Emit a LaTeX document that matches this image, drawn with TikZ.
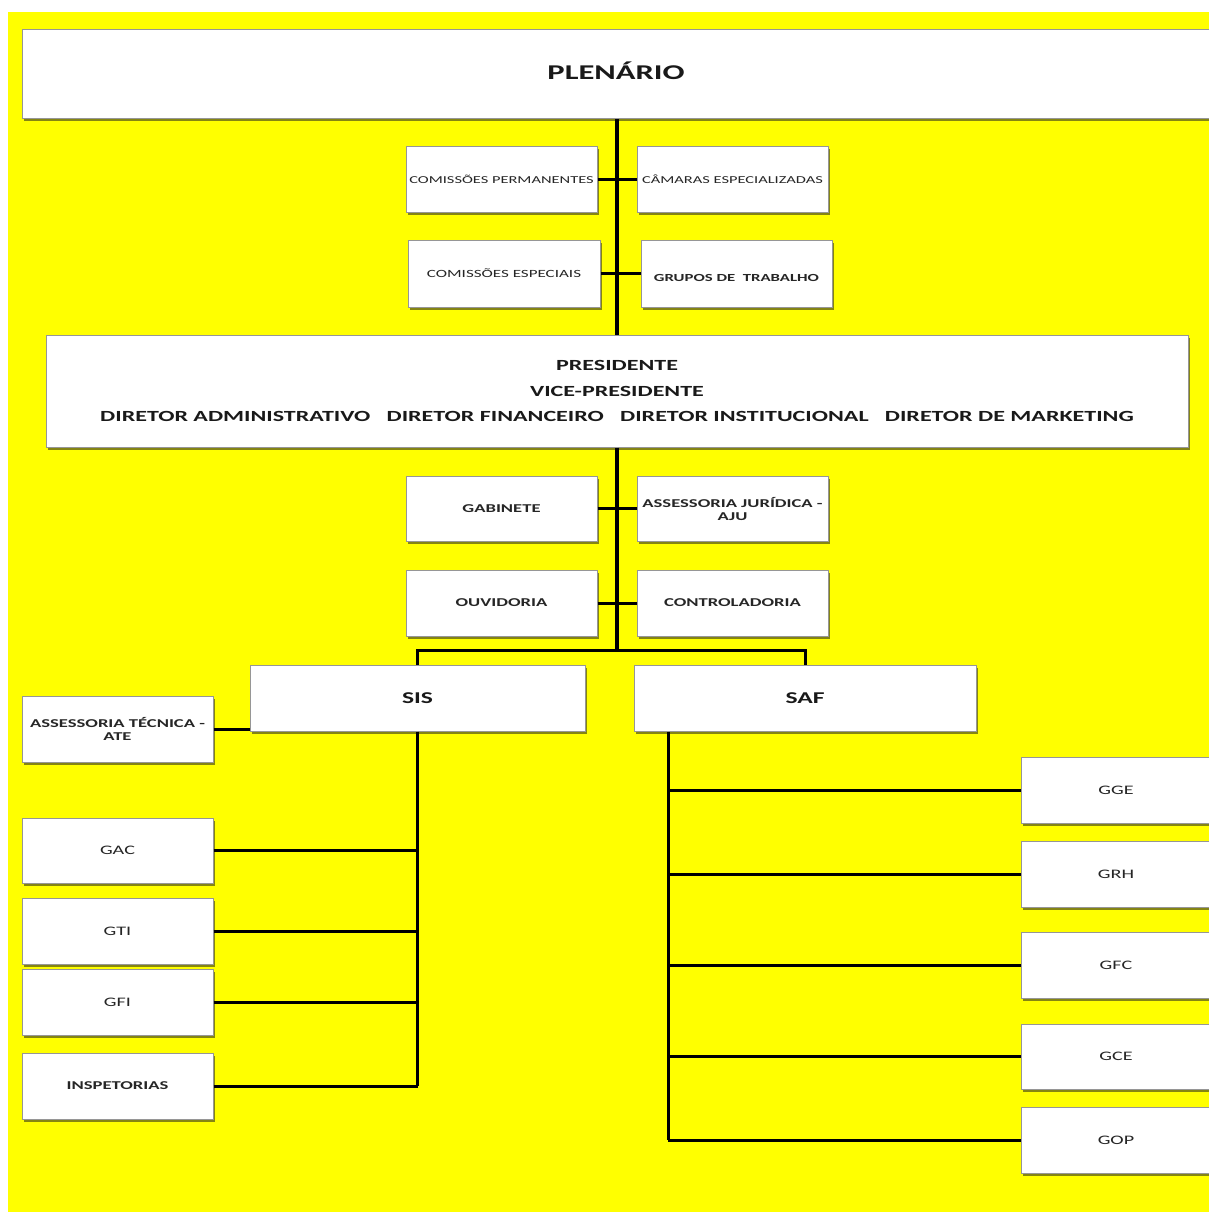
\documentclass[tikz,border=0pt]{standalone}
\usepackage{fontspec}
\setmainfont{Carlito}
\newfontfamily\wide[FakeStretch=1.55]{Carlito}
\usetikzlibrary{shadows}
\definecolor{bgyel}{RGB}{255,255,0}
\definecolor{shad}{RGB}{120,120,20}
\definecolor{txt}{RGB}{38,38,38}
\tikzset{
  box/.style={draw={rgb,255:red,150;green,150;blue,150}, line width=1pt, fill=white,
    drop shadow={shadow xshift=1.5pt, shadow yshift=-2.5pt, fill=shad, opacity=0.9},
    inner sep=1pt, align=center, text=txt, font=\wide\bfseries\fontsize{12}{13}\selectfont},
  reg/.style={font=\wide\fontsize{13}{14}\selectfont},
  tiny/.style={font=\wide\fontsize{10.6}{12}\selectfont},
  big/.style={font=\wide\bfseries\fontsize{15.5}{25.5}\selectfont, text=black!90},
  conn/.style={line width=3pt, black},
  trunk/.style={line width=4pt, black},
}
\begin{document}
\begin{tikzpicture}[x=1pt,y=-1pt]
\useasboundingbox (0,0) rectangle (1209,1212);
\clip (0,0) rectangle (1209,1212);
\fill[bgyel] (8,12) rectangle (1215,1220);
% coordinates for trunk lines
\coordinate (tx) at (617,0);
\coordinate (j) at (617,650);
\coordinate (sv) at (668,0);
% top
\node[box, font=\wide\bfseries\fontsize{21}{24}\selectfont, text=black!90, text depth=8pt, minimum width=1188, minimum height=89] (plen) at (616,74.5) {PLENÁRIO};
\node[box, tiny, minimum width=191, minimum height=66] (cp) at (501.5,179) {COMISSÕES PERMANENTES};
\node[box, tiny, minimum width=191, minimum height=66] (ca) at (732.5,179) {CÂMARAS ESPECIALIZADAS};
\node[box, font=\wide\fontsize{11}{12}\selectfont, minimum width=192, minimum height=67] (ces) at (504,273.5) {COMISSÕES ESPECIAIS};
\node[box, font=\wide\bfseries\fontsize{10.8}{12}\selectfont, text height=17pt, minimum width=191, minimum height=67] (gt) at (736.5,273.5) {GRUPOS DE \ TRABALHO};
\node[box, big, minimum width=1142, minimum height=112] (pres) at (617,391)
  {PRESIDENTE\\VICE-PRESIDENTE\\DIRETOR ADMINISTRATIVO \ \ DIRETOR FINANCEIRO \ \ DIRETOR INSTITUCIONAL \ \ DIRETOR DE MARKETING};
\node[box, minimum width=191, minimum height=65] (gab) at (501.5,508.5) {GABINETE};
\node[box, minimum width=191, minimum height=65] (aju) at (732.5,508.5) {ASSESSORIA JURÍDICA -\\AJU};
\node[box, minimum width=191, minimum height=66] (ouv) at (501.5,603) {OUVIDORIA};
\node[box, minimum width=191, minimum height=66] (ctr) at (732.5,603) {CONTROLADORIA};
\node[box, big, font=\wide\bfseries\fontsize{16.5}{18}\selectfont, minimum width=335, minimum height=66] (sis) at (417.5,698) {SIS};
\node[box, big, font=\wide\bfseries\fontsize{16.5}{18}\selectfont, minimum width=342, minimum height=66] (saf) at (805,698) {SAF};
% left column
\node[box, minimum width=191, minimum height=66] (ate) at (117.5,729) {ASSESSORIA TÉCNICA -\\ATE};
\node[box, reg, minimum width=191, minimum height=65] (gac) at (117.5,850.5) {GAC};
\node[box, reg, minimum width=191, minimum height=66] (gti) at (117.5,931) {GTI};
\node[box, reg, minimum width=191, minimum height=66] (gfi) at (117.5,1002) {GFI};
\node[box, minimum width=191, minimum height=66] (insp) at (117.5,1086) {INSPETORIAS};
% right column
\node[box, reg, minimum width=190, minimum height=66] (gge) at (1116,790) {GGE};
\node[box, reg, minimum width=190, minimum height=66] (grh) at (1116,874) {GRH};
\node[box, reg, minimum width=190, minimum height=66] (gfc) at (1116,965) {GFC};
\node[box, reg, minimum width=190, minimum height=65] (gce) at (1116,1056.5) {GCE};
\node[box, reg, minimum width=190, minimum height=66] (gop) at (1116,1140) {GOP};
% connectors
\draw[trunk] (plen.south -| tx) -- (pres.north -| tx);
\draw[conn] (cp.east) -- (ca.west);
\draw[conn] (ces.east) -- (gt.west);
\draw[trunk] (pres.south -| tx) -- (j);
\draw[conn] (gab.east) -- (aju.west);
\draw[conn] (ouv.east) -- (ctr.west);
\draw[conn] (sis.north) |- (j) -| (saf.north);
\draw[conn] (sis.south) -- (insp.east -| sis.south);
\draw[conn] (ate.east) -- (ate.east -| sis.west);
\draw[conn] (gac.east) -- (gac.east -| sis.south);
\draw[conn] (gti.east) -- (gti.east -| sis.south);
\draw[conn] (gfi.east) -- (gfi.east -| sis.south);
\draw[conn] (insp.east) -- (insp.east -| sis.south);
\draw[conn] (saf.south -| sv) -- (gop.west -| sv);
\draw[conn] (gge.west) -- (gge.west -| sv);
\draw[conn] (grh.west) -- (grh.west -| sv);
\draw[conn] (gfc.west) -- (gfc.west -| sv);
\draw[conn] (gce.west) -- (gce.west -| sv);
\draw[conn] (gop.west) -- (gop.west -| sv);
\end{tikzpicture}
\end{document}
